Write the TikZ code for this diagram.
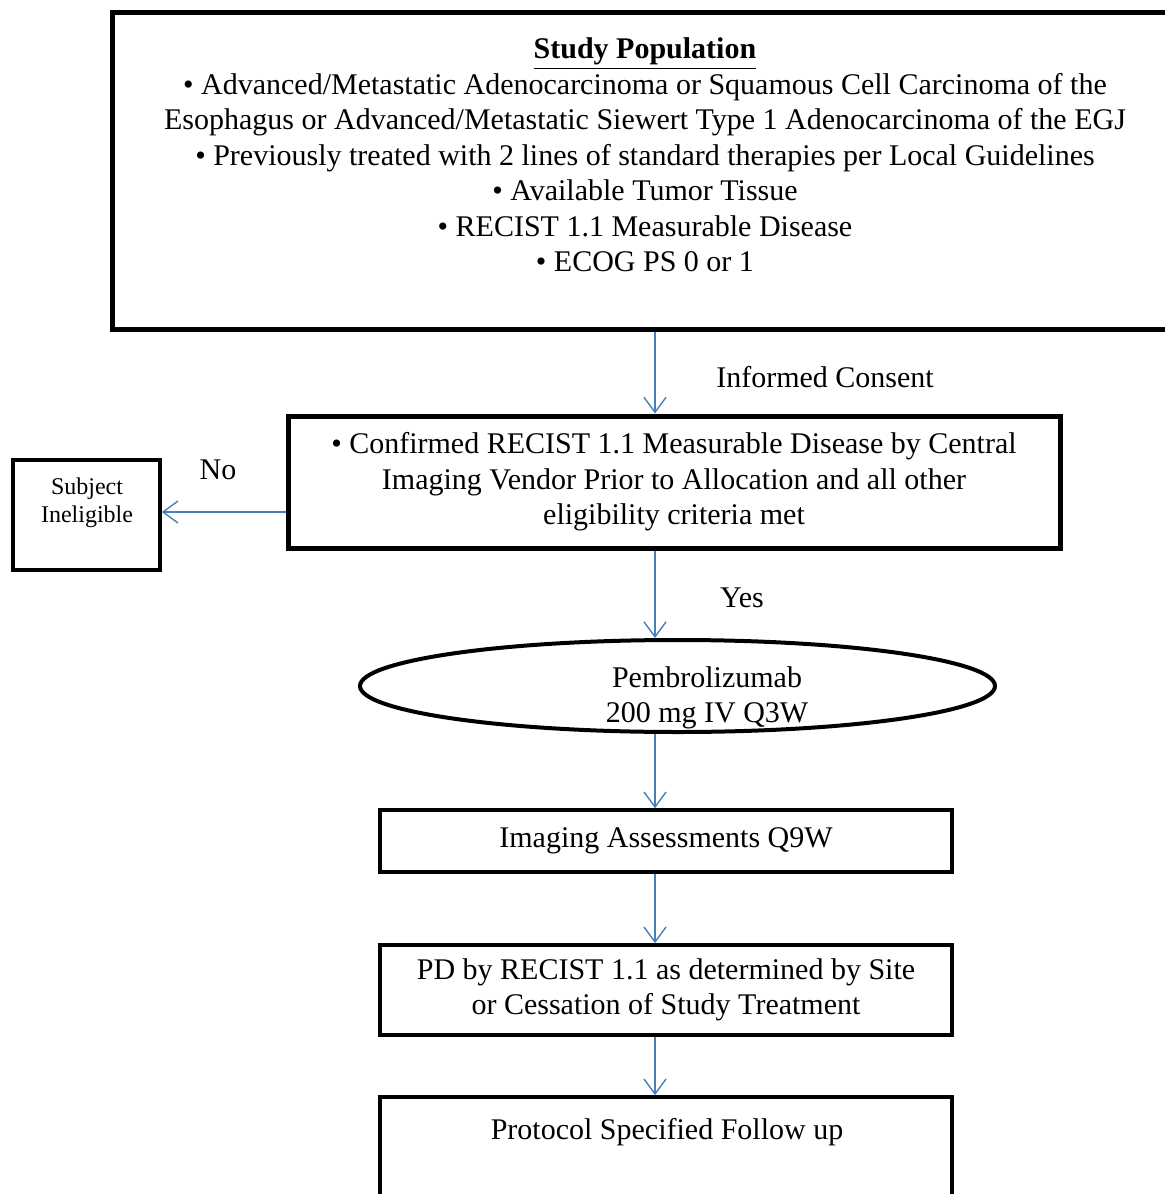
\documentclass[tikz,border=0pt]{standalone}
\usepackage{fontspec}
\setmainfont{Liberation Serif}
\usepackage{tikz}
\usetikzlibrary{arrows.meta,shapes.geometric}

\definecolor{arrowblue}{RGB}{74,126,187}

\begin{document}
\begin{tikzpicture}[x=0.5pt, y=-0.5pt,
    every node/.style={font=\fontsize{15}{17.75}\selectfont, align=center, inner sep=0pt},
    bigbox/.style={draw=black, line width=2.5pt, rectangle},
    stepbox/.style={draw=black, line width=1.8pt, rectangle, minimum width=286pt},
    arr/.style={draw=arrowblue, line width=0.7pt, -{Straight Barb[length=7.5pt, width=11pt]}}]
    \useasboundingbox (0,0) rectangle (1165,1194);
    \clip (0,0) rectangle (1165,1194);

    \node[bigbox, minimum width=535pt, minimum height=158.5pt] (pop) at (647,170.5) {};
    \node (poptxt) at (645,155) {\underline{\textbf{Study Population}}\\
        • Advanced/Metastatic Adenocarcinoma or Squamous Cell Carcinoma of the\\
        Esophagus or Advanced/Metastatic Siewert Type 1 Adenocarcinoma of the EGJ\\
        • Previously treated with 2 lines of standard therapies per Local Guidelines\\
        • Available Tumor Tissue\\
        • RECIST 1.1 Measurable Disease\\
        • ECOG PS 0 or 1};

    \node[bigbox, minimum width=386pt, minimum height=66pt] (crit) at (674,482)
        {• Confirmed RECIST 1.1 Measurable Disease by Central\\
         Imaging Vendor Prior to Allocation and all other\\
         eligibility criteria met};

    \node[draw=black, line width=1.8pt, minimum width=73.5pt, minimum height=55pt] (subj) at (86.5,515) {};
    \node[font=\fontsize{12}{14}\selectfont] (subjtxt) at (87,503) {Subject\\Ineligible};

    \node[ellipse, draw=black, line width=2pt, minimum width=317.5pt, minimum height=46pt] (pembro) at (677.5,686) {};
    \node (pembrotxt) at (707,698) {Pembrolizumab\\200 mg IV Q3W};

    \node[stepbox, minimum height=31pt] (imaging) at (666,841) {Imaging Assessments Q9W};
    \node[stepbox, minimum height=45pt] (pd) at (666,990)
        {PD by RECIST 1.1 as determined by Site\\or Cessation of Study Treatment};
    \node[stepbox, minimum height=60pt] (follow) at (666,1157) {};
    \node (followtxt) at (667,1132) {Protocol Specified Follow up};

    \node (consent) at (825,377) {Informed Consent};
    \node (no) at (218,470) {No};
    \node (yes) at (742,598) {Yes};

    \coordinate (spine) at (655,0);
    \coordinate (nolevel) at (0,512);

    \draw[arr] (pop.south -| spine) -- (crit.north -| spine);
    \draw[arr] (crit.west |- nolevel) -- (subj.east |- nolevel);
    \draw[arr] (crit.south -| spine) -- (pembro.north -| spine);
    \draw[arr] (pembro.south -| spine) -- (imaging.north -| spine);
    \draw[arr] (imaging.south -| spine) -- (pd.north -| spine);
    \draw[arr] (pd.south -| spine) -- (follow.north -| spine);
\end{tikzpicture}
\end{document}
